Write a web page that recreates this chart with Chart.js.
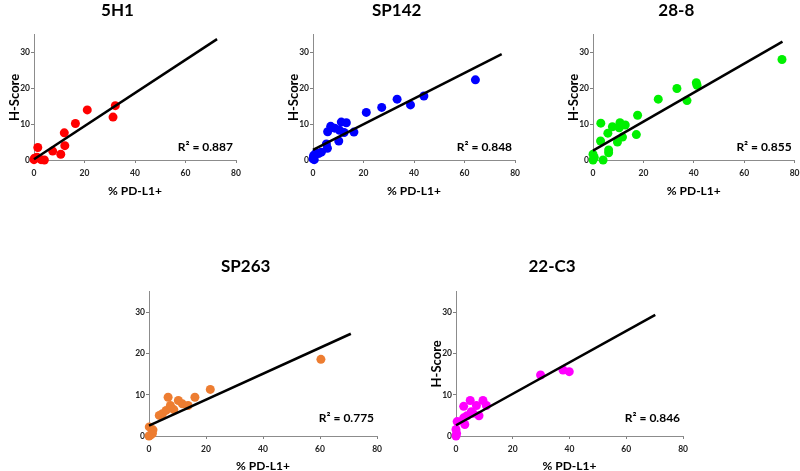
<!DOCTYPE html>
<html>
<head>
<meta charset="utf-8">
<title>H-Score vs % PD-L1+</title>
<script src="https://cdn.jsdelivr.net/npm/chart.js@4.4.0/dist/chart.umd.min.js"></script>
<style>
  html, body { margin: 0; padding: 0; background: #fff; }
  body { width: 800px; height: 471px; position: relative; overflow: hidden; }
  canvas { position: absolute; }
</style>
</head>
<body>
<script>
// values
const panelTitles = ['5H1', 'SP142', '28-8', 'SP263', '22-C3'];
const r2Labels = ['R\u00b2 = 0.887', 'R\u00b2 = 0.848', 'R\u00b2 = 0.855', 'R\u00b2 = 0.775', 'R\u00b2 = 0.846'];
const pointColors = ['#ff0000', '#0000ff', '#00f000', '#ed7d31', '#ff00ff'];
const xTitle = '% PD-L1+';
const yTitle = 'H-Score';

const pdl1_5H1 = [0, 0.2, 1.2, 1.5, 2.8, 4.1, 7.4, 10.6, 12.0, 12.2, 16.4, 21.1, 31.3, 32.2];
const hscore_5H1 = [0.1, 0.5, 0.8, 3.5, 0.1, 0, 2.5, 1.6, 7.6, 4.0, 10.2, 14.0, 12.0, 15.2];

const pdl1_SP142 = [0, 0.5, 0.3, 0.2, 1.2, 2.2, 3.3, 5.7, 5.3, 10.2, 5.8, 7.0, 8.6, 10.5, 12.3, 11.2, 13.2, 16.2, 21.1, 27.2, 33.3, 38.6, 43.9, 64.3];
const hscore_SP142 = [0.3, 0.1, 1.3, 0.9, 2.0, 1.8, 2.2, 3.3, 4.5, 5.3, 7.9, 9.4, 8.9, 8.3, 7.7, 10.6, 10.4, 7.8, 13.3, 14.7, 17.0, 15.4, 17.9, 22.4];

const pdl1_288 = [0, 0.5, 0, 4.0, 6.2, 6.2, 3.0, 9.7, 5.9, 11.7, 3.1, 7.7, 10.4, 10.7, 12.8, 17.2, 17.7, 25.9, 33.3, 37.3, 41.0, 41.3, 75.0];
const hscore_288 = [0, 0.7, 1.6, 0, 2.0, 2.8, 5.3, 5.0, 7.5, 6.4, 10.3, 9.3, 9.0, 10.4, 9.8, 7.1, 12.5, 17.0, 20.0, 16.6, 21.6, 20.9, 28.1];

const pdl1_SP263 = [0, 0.5, 1.2, 1.4, 0.1, 3.6, 4.7, 6.0, 8.7, 7.5, 11.7, 13.7, 10.3, 6.7, 16.1, 21.5, 60.3];
const hscore_SP263 = [0, 0.2, 0.6, 1.5, 2.2, 5.0, 5.4, 6.2, 6.4, 7.4, 7.8, 7.4, 8.6, 9.4, 9.4, 11.3, 18.6];

const pdl1_22C3 = [0, 0.2, 0, 0.4, 2.7, 3.1, 3.9, 5.4, 6.0, 8.1, 2.7, 7.2, 10.7, 5.0, 9.5, 29.8, 37.7, 39.9];
const hscore_22C3 = [0, 0.6, 1.6, 3.5, 4.4, 2.8, 4.9, 5.9, 5.5, 4.9, 7.2, 7.4, 7.4, 8.6, 8.6, 14.8, 16.0, 15.6];

// linear trend line end points
const fitX_5H1 = [0, 72.5], fitY_5H1 = [0.2, 33.8];
const fitX_SP142 = [0, 74.7], fitY_SP142 = [2.8, 29.6];
const fitX_288 = [0, 75.2], fitY_288 = [2.6, 33.1];
const fitX_SP263 = [0, 70.8], fitY_SP263 = [2.5, 24.8];
const fitX_22C3 = [0, 70.2], fitY_22C3 = [2.6, 29.4];

const xMin = 0, xMax = 80, xStep = 20;
const yMin = 0, yMax = 35, yStep = 10;

const panelX = [pdl1_5H1, pdl1_SP142, pdl1_288, pdl1_SP263, pdl1_22C3];
const panelY = [hscore_5H1, hscore_SP142, hscore_288, hscore_SP263, hscore_22C3];
const fitXs = [fitX_5H1, fitX_SP142, fitX_288, fitX_SP263, fitX_22C3];
const fitYs = [fitY_5H1, fitY_SP142, fitY_288, fitY_SP263, fitY_22C3];

// where each small chart sits on the page
const layout = [
  { left: -1,    top: 0,   plotW: 202,   h: 200, titlePad: { top: 0, bottom: 14.4 },   xAxisH: 40, r2Off: 13,   yTitle: true },
  { left: 278,   top: 0,   plotW: 202.4, h: 200, titlePad: { top: 0, bottom: 14.4 },   xAxisH: 40, r2Off: 13,   yTitle: true },
  { left: 557.5, top: 0,   plotW: 201.6, h: 200, titlePad: { top: 0, bottom: 14.4 },   xAxisH: 40, r2Off: 13,   yTitle: true },
  { left: 114,   top: 255, plotW: 228.3, h: 220, titlePad: { top: 1.5, bottom: 14.8 }, xAxisH: 39, r2Off: 18.3, yTitle: false },
  { left: 420.7, top: 255, plotW: 227.1, h: 220, titlePad: { top: 1.5, bottom: 14.8 }, xAxisH: 39, r2Off: 18.3, yTitle: true }
];

const FONT = 'Lato, "Open Sans", sans-serif';
const Y_AXIS_W = 35;
const PAD_R = 10;

const r2Plugin = {
  id: 'r2label',
  afterDatasetsDraw(chart, args, opts) {
    const { ctx, chartArea } = chart;
    ctx.save();
    ctx.font = 'bold 12px ' + FONT;
    ctx.fillStyle = '#000';
    ctx.textAlign = 'right';
    ctx.textBaseline = 'middle';
    ctx.fillText(opts.text, chartArea.right - 3, chartArea.bottom - opts.offsetY);
    ctx.restore();
  }
};

function makePanel(i) {
  const pos = layout[i];
  const canvas = document.createElement('canvas');
  canvas.width = Math.round(Y_AXIS_W + pos.plotW + PAD_R);
  canvas.height = pos.h;
  canvas.style.left = pos.left + 'px';
  canvas.style.top = pos.top + 'px';
  document.body.appendChild(canvas);

  const points = panelX[i].map((x, k) => ({ x: x, y: panelY[i][k] }));
  const fit = fitXs[i].map((x, k) => ({ x: x, y: fitYs[i][k] }));

  new Chart(canvas.getContext('2d'), {
    type: 'scatter',
    data: {
      datasets: [
        {
          type: 'line',
          data: fit,
          borderColor: '#000',
          borderWidth: 2.5,
          pointRadius: 0,
          fill: false,
          order: 0,
          clip: false
        },
        {
          type: 'scatter',
          data: points,
          backgroundColor: pointColors[i],
          borderWidth: 0,
          pointRadius: 4.5,
          order: 1,
          clip: false
        }
      ]
    },
    options: {
      responsive: false,
      animation: false,
      devicePixelRatio: 1,
      layout: { padding: { left: 0, right: canvas.width - Y_AXIS_W - pos.plotW, top: 0, bottom: 0 } },
      plugins: {
        legend: { display: false },
        tooltip: { enabled: false },
        title: {
          display: true,
          text: panelTitles[i],
          color: '#000',
          font: { family: FONT, size: 17, weight: 'bold' },
          padding: pos.titlePad
        },
        r2label: { text: r2Labels[i], offsetY: pos.r2Off }
      },
      scales: {
        x: {
          type: 'linear',
          position: 'bottom',
          min: xMin,
          max: xMax,
          ticks: { stepSize: xStep, padding: 5, color: '#222', font: { family: FONT, size: 8.5, weight: 'bold' } },
          grid: { drawOnChartArea: false, tickLength: 3, color: '#808080' },
          border: { color: '#8c8c8c', width: 1 },
          title: {
            display: true, text: xTitle, color: '#000',
            font: { family: FONT, size: 12, weight: 'bold' },
            padding: { top: 0, bottom: 2 }
          },
          afterFit: s => { s.height = pos.xAxisH; }
        },
        y: {
          type: 'linear',
          min: yMin,
          max: yMax,
          ticks: { stepSize: yStep, includeBounds: false, padding: 1, color: '#222', font: { family: FONT, size: 8.5, weight: 'bold' } },
          grid: { drawOnChartArea: false, tickLength: 3, color: '#808080' },
          border: { color: '#8c8c8c', width: 1 },
          title: {
            display: pos.yTitle, text: yTitle, color: '#000',
            font: { family: FONT, size: 13, weight: 'bold' },
            padding: { top: 7.9, bottom: 0 }
          },
          afterFit: s => { s.width = Y_AXIS_W; }
        }
      }
    },
    plugins: [r2Plugin]
  });
}

for (let i = 0; i < panelTitles.length; i++) makePanel(i);
</script>
</body>
</html>
